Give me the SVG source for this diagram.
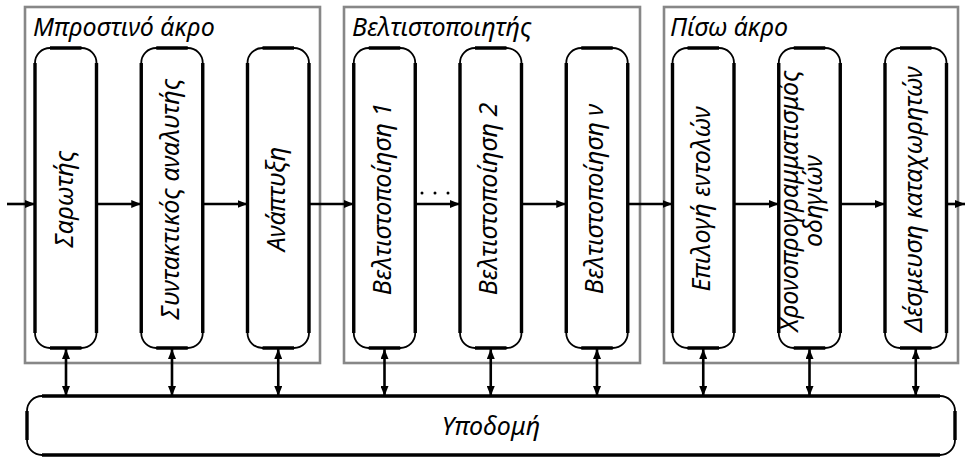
<svg xmlns="http://www.w3.org/2000/svg" width="966" height="457" viewBox="0 0 966 457">
<style>
.grp{fill:none;stroke:#878787;stroke-width:2.6}
.nb{fill:#fff;stroke:#000;stroke-width:1.8}
.ns{fill:none;stroke:#000;stroke-width:3.4}
.t{font-family:"Noto Sans","DejaVu Sans",sans-serif;font-style:italic;font-size:25px;fill:#000}
.c{fill:none;stroke:#000;stroke-width:2.6}
</style>
<defs>
<marker id="ah" viewBox="0 0 10 8" refX="10" refY="4" markerWidth="10" markerHeight="8" markerUnits="userSpaceOnUse" orient="auto-start-reverse">
<path d="M0,0 L10,4 L0,8 z" fill="#000"/>
</marker>
</defs>
<g id="group-frontend">
<rect class="grp" x="25" y="7" width="295" height="356"/>
<text class="t" x="33" y="36">Μπροστινό άκρο</text>
</g>
<g id="group-optimizer">
<rect class="grp" x="344" y="7" width="296" height="356"/>
<text class="t" x="352" y="36">Βελτιστοποιητής</text>
</g>
<g id="group-backend">
<rect class="grp" x="664" y="7" width="294" height="356"/>
<text class="t" x="670" y="36">Πίσω άκρο</text>
</g>
<g id="connectors">
<line class="c" x1="7" y1="204" x2="35" y2="204" marker-end="url(#ah)"/>
<line class="c" x1="96.5" y1="204" x2="141.25" y2="204" marker-end="url(#ah)"/>
<line class="c" x1="202.75" y1="204" x2="247.5" y2="204" marker-end="url(#ah)"/>
<line class="c" x1="309" y1="204" x2="353.75" y2="204" marker-end="url(#ah)"/>
<line class="c" x1="415.25" y1="204" x2="460" y2="204" marker-end="url(#ah)"/>
<line class="c" x1="521.5" y1="204" x2="566.25" y2="204" marker-end="url(#ah)"/>
<line class="c" x1="627.75" y1="204" x2="672.5" y2="204" marker-end="url(#ah)"/>
<line class="c" x1="734" y1="204" x2="778.75" y2="204" marker-end="url(#ah)"/>
<line class="c" x1="840.25" y1="204" x2="885" y2="204" marker-end="url(#ah)"/>
<line class="c" x1="946.5" y1="204" x2="965" y2="204" marker-end="url(#ah)"/>
<circle cx="422" cy="193" r="1.5"/>
<circle cx="435" cy="193" r="1.5"/>
<circle cx="448" cy="193" r="1.5"/>
<line class="c" x1="66" y1="349" x2="66" y2="396" marker-start="url(#ah)" marker-end="url(#ah)"/>
<line class="c" x1="172" y1="349" x2="172" y2="396" marker-start="url(#ah)" marker-end="url(#ah)"/>
<line class="c" x1="278.25" y1="349" x2="278.25" y2="396" marker-start="url(#ah)" marker-end="url(#ah)"/>
<line class="c" x1="384.5" y1="349" x2="384.5" y2="396" marker-start="url(#ah)" marker-end="url(#ah)"/>
<line class="c" x1="490.75" y1="349" x2="490.75" y2="396" marker-start="url(#ah)" marker-end="url(#ah)"/>
<line class="c" x1="597" y1="349" x2="597" y2="396" marker-start="url(#ah)" marker-end="url(#ah)"/>
<line class="c" x1="703.25" y1="349" x2="703.25" y2="396" marker-start="url(#ah)" marker-end="url(#ah)"/>
<line class="c" x1="809.5" y1="349" x2="809.5" y2="396" marker-start="url(#ah)" marker-end="url(#ah)"/>
<line class="c" x1="915.75" y1="349" x2="915.75" y2="396" marker-start="url(#ah)" marker-end="url(#ah)"/>
</g>
<g id="node-scanner">
<rect class="nb" x="35" y="48" width="61.5" height="300" rx="15"/>
<path class="ns" d="M35,63V333M96.5,63V333M50,48H81.5M50,348H81.5"/>
<text class="t" transform="translate(73,199) rotate(-90)" text-anchor="middle">Σαρωτής</text>
</g>
<g id="node-parser">
<rect class="nb" x="141.25" y="48" width="61.5" height="300" rx="15"/>
<path class="ns" d="M141.25,63V333M202.75,63V333M156.25,48H187.75M156.25,348H187.75"/>
<text class="t" transform="translate(179,199) rotate(-90)" text-anchor="middle">Συντακτικός αναλυτής</text>
</g>
<g id="node-expansion">
<rect class="nb" x="247.5" y="48" width="61.5" height="300" rx="15"/>
<path class="ns" d="M247.5,63V333M309,63V333M262.5,48H294M262.5,348H294"/>
<text class="t" transform="translate(285,199) rotate(-90)" text-anchor="middle">Ανάπτυξη</text>
</g>
<g id="node-opt1">
<rect class="nb" x="353.75" y="48" width="61.5" height="300" rx="15"/>
<path class="ns" d="M353.75,63V333M415.25,63V333M368.75,48H400.25M368.75,348H400.25"/>
<text class="t" transform="translate(391,199) rotate(-90)" text-anchor="middle">Βελτιστοποίηση 1</text>
</g>
<g id="node-opt2">
<rect class="nb" x="460" y="48" width="61.5" height="300" rx="15"/>
<path class="ns" d="M460,63V333M521.5,63V333M475,48H506.5M475,348H506.5"/>
<text class="t" transform="translate(497,199) rotate(-90)" text-anchor="middle">Βελτιστοποίηση 2</text>
</g>
<g id="node-optn">
<rect class="nb" x="566.25" y="48" width="61.5" height="300" rx="15"/>
<path class="ns" d="M566.25,63V333M627.75,63V333M581.25,48H612.75M581.25,348H612.75"/>
<text class="t" transform="translate(603,199) rotate(-90)" text-anchor="middle">Βελτιστοποίηση ν</text>
</g>
<g id="node-isel">
<rect class="nb" x="672.5" y="48" width="61.5" height="300" rx="15"/>
<path class="ns" d="M672.5,63V333M734,63V333M687.5,48H719M687.5,348H719"/>
<text class="t" transform="translate(710,199) rotate(-90)" text-anchor="middle">Επιλογή εντολών</text>
</g>
<g id="node-sched">
<rect class="nb" x="778.75" y="48" width="61.5" height="300" rx="15"/>
<path class="ns" d="M778.75,63V333M840.25,63V333M793.75,48H825.25M793.75,348H825.25"/>
<text class="t" transform="translate(798,201) rotate(-90)" text-anchor="middle">Χρονοπρογραμματισμός</text>
<text class="t" transform="translate(822,201) rotate(-90)" text-anchor="middle">οδηγιών</text>
</g>
<g id="node-regalloc">
<rect class="nb" x="885" y="48" width="61.5" height="300" rx="15"/>
<path class="ns" d="M885,63V333M946.5,63V333M900,48H931.5M900,348H931.5"/>
<text class="t" transform="translate(922,199) rotate(-90)" text-anchor="middle">Δέσμευση καταχωρητών</text>
</g>
<g id="node-infrastructure">
<rect class="nb" x="27" y="396" width="928" height="59" rx="15"/>
<path class="ns" d="M27,411V440M955,411V440M42,396H940M42,455H940"/>
<text class="t" x="491" y="435" text-anchor="middle">Υποδομή</text>
</g>
</svg>
